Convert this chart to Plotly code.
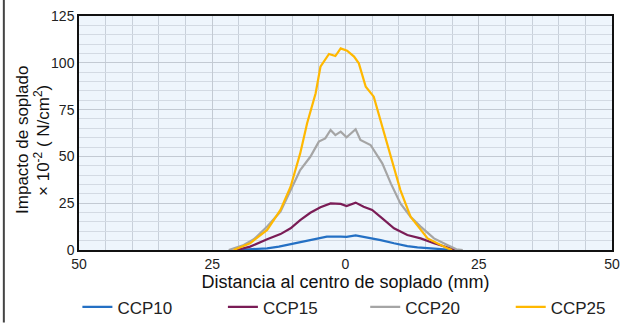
import plotly.graph_objects as go

# Distances (mm) and impact values (x10^-2 N/cm^2)
x_ccp10 = [-20.4, -17.5, -14.7, -12.5, -11.0, -8.5, -6.0, -3.5, -0.9, 0.2, 1.9, 4.1, 6.6, 9.1, 11.6, 13.5, 15.4, 19.1, 20.5]
y_ccp10 = [0.0, 0.4, 0.9, 1.8, 2.7, 4.4, 5.7, 7.1, 7.1, 7.0, 7.8, 6.8, 5.3, 3.6, 2.1, 1.4, 0.9, 0.2, 0.0]

x_ccp15 = [-20.4, -17.9, -14.7, -12.2, -10.3, -8.5, -6.6, -4.7, -2.8, -0.9, 0.2, 1.9, 3.4, 5.0, 6.9, 9.1, 11.6, 14.1, 16.6, 19.1, 20.7]
y_ccp15 = [0.0, 1.8, 5.7, 8.5, 11.6, 16.0, 19.9, 22.8, 24.9, 24.6, 23.5, 25.3, 23.1, 21.4, 16.9, 11.6, 8.0, 6.2, 3.6, 1.4, 0.0]

x_ccp20 = [-21.9, -19.1, -17.2, -14.7, -12.2, -10.3, -8.5, -6.6, -5.0, -3.8, -2.8, -1.9, -0.9, 0.2, 1.9, 2.8, 4.7, 6.9, 8.5, 10.3, 12.2, 14.1, 16.6, 19.1, 20.8, 22.0]
y_ccp20 = [0.0, 2.7, 5.7, 12.5, 20.5, 32.0, 42.7, 49.8, 57.9, 59.6, 64.1, 61.4, 63.2, 60.2, 64.5, 58.8, 56.1, 46.3, 35.6, 24.9, 17.8, 12.5, 6.2, 2.7, 0.4, 0.0]

x_ccp25 = [-21.0, -17.9, -14.7, -12.2, -10.3, -8.5, -7.2, -5.6, -4.7, -3.1, -1.9, -0.9, 0.3, 1.6, 2.5, 3.8, 5.3, 6.9, 8.5, 10.3, 12.2, 15.4, 19.1, 20.0]
y_ccp25 = [0.0, 3.6, 10.7, 21.4, 33.8, 51.6, 67.7, 83.7, 97.9, 104.7, 103.6, 107.7, 106.5, 103.3, 99.7, 87.2, 81.9, 65.9, 49.8, 32.0, 17.8, 6.2, 0.9, 0.0]

series_names = ["CCP10", "CCP15", "CCP20", "CCP25"]
series_colors = ["#2470c4", "#7a1c56", "#a5a5a5", "#ffb800"]

x_tickvals = [-50, -25, 0, 25, 50]
x_ticktext = ["50", "25", "0", "25", "50"]
y_tickvals = [0, 25, 50, 75, 100, 125]

y_title_lines = ["Impacto de soplado", "× 10<sup>-2</sup> ( N/cm<sup>2</sup>)"]

FONT = "Liberation Sans, Arial, sans-serif"

# legend anchor positions (paper fraction of plot width)
legend_ids = ["legend", "legend2", "legend3", "legend4"]
legend_x = [-0.003, 0.270, 0.537, 0.810]

fig = go.Figure()
for xs, ys, name, col, lid in zip([x_ccp10, x_ccp15, x_ccp20, x_ccp25],
                                  [y_ccp10, y_ccp15, y_ccp20, y_ccp25],
                                  series_names, series_colors, legend_ids):
    fig.add_trace(go.Scatter(x=xs, y=ys, name=name, mode="lines", legend=lid,
                             line=dict(color=col, width=2.2)))

legend_common = dict(orientation="h", y=-0.245, yanchor="middle", xanchor="left",
                     font=dict(size=17, family=FONT, color="#222"),
                     bgcolor="rgba(0,0,0,0)")
layout_legends = {lid: dict(x=lx, **legend_common) for lid, lx in zip(legend_ids, legend_x)}

fig.update_layout(
    width=628, height=323,
    margin=dict(l=79, r=16, t=16, b=73, autoexpand=False),
    paper_bgcolor="white",
    plot_bgcolor="#eef5fc",
    font=dict(family=FONT, color="#222", size=14),
    showlegend=True,
    shapes=[dict(type="line", xref="paper", yref="paper", layer="above",
                 x0=-0.1410, x1=-0.1410, y0=-0.31, y1=1.068,
                 line=dict(color="#444", width=2))],
    annotations=[
        dict(text=y_title_lines[0], xref="paper", yref="paper", x=-0.1071, y=0.47,
             xanchor="center", yanchor="middle", textangle=-90, showarrow=False,
             font=dict(size=17, color="#111", family=FONT)),
        dict(text=y_title_lines[1], xref="paper", yref="paper", x=-0.0695, y=0.47,
             xanchor="center", yanchor="middle", textangle=-90, showarrow=False,
             font=dict(size=17, color="#111", family=FONT)),
    ],
    **layout_legends,
)

fig.update_xaxes(
    range=[-50, 50], tickvals=x_tickvals, ticktext=x_ticktext,
    showgrid=True, gridcolor="#c3cad3", gridwidth=1,
    minor=dict(dtick=5, showgrid=True, gridcolor="#c8d0da", gridwidth=1),
    showline=True, linecolor="#111", linewidth=1.5, mirror=True,
    ticks="", zeroline=False,
    tickfont=dict(size=14, color="#222"),
    title=dict(text="Distancia al centro de soplado (mm)", font=dict(size=18, color="#111"), standoff=4),
)
fig.update_yaxes(
    range=[0, 125], tickvals=y_tickvals,
    showgrid=True, gridcolor="#c3cad3", gridwidth=1,
    minor=dict(dtick=5, showgrid=True, gridcolor="#d3dae3", gridwidth=1),
    showline=True, linecolor="#111", linewidth=1.5, mirror=True,
    ticks="", zeroline=False,
    tickfont=dict(size=14, color="#222"),
)

fig.write_html("out.html", config={"displayModeBar": False},
               post_script="document.body.style.margin='0px';")
